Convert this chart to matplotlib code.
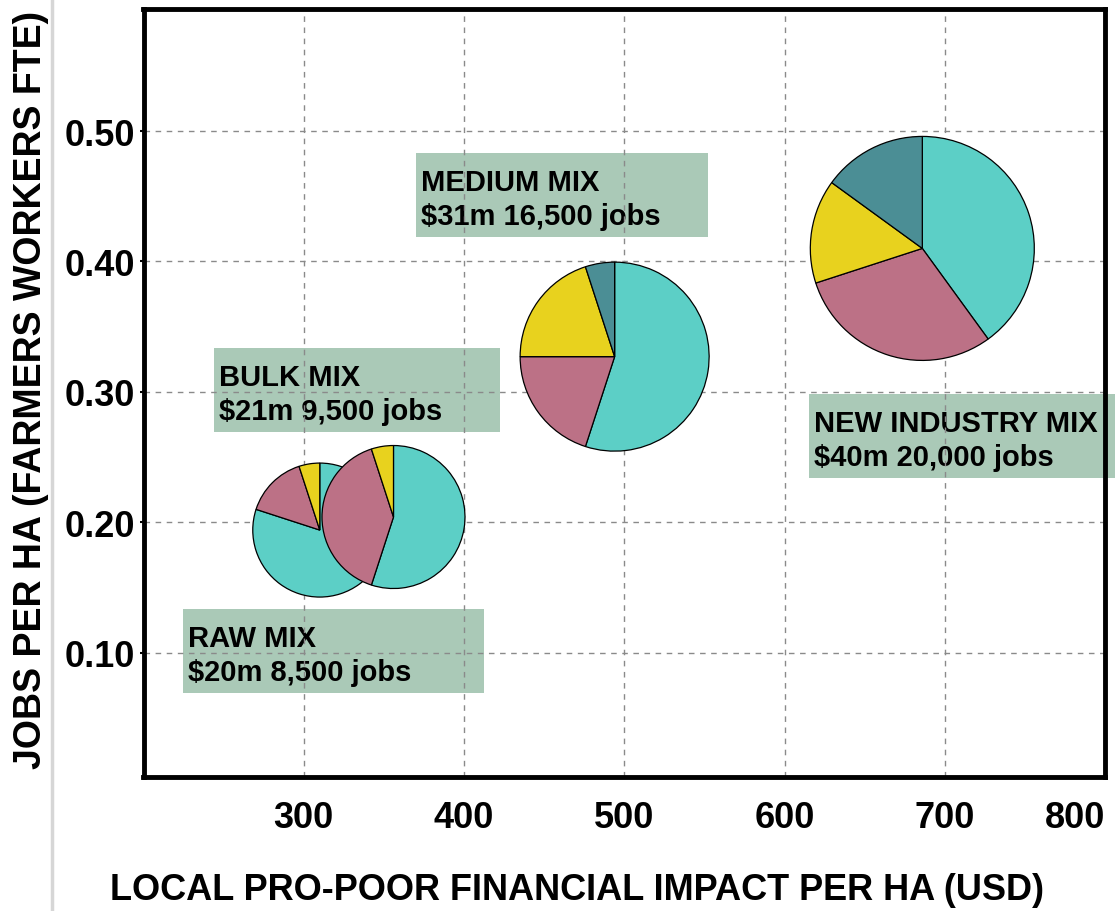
"""
Pro-poor impact vs jobs per hectare, one pie per product mix
"""
import matplotlib
matplotlib.use("Agg")
import matplotlib.pyplot as plt
from matplotlib.patches import Rectangle
from matplotlib.lines import Line2D

# values
mix_names = ["RAW MIX", "BULK MIX", "MEDIUM MIX", "NEW INDUSTRY MIX"]
mix_value = ["$20m", "$21m", "$31m", "$40m"]
mix_jobs = ["8,500", "9,500", "16,500", "20,000"]
impact_per_ha = [310, 356, 494, 686]
jobs_per_ha = [0.194, 0.204, 0.327, 0.410]

# pie shares (%), clockwise from 12 o'clock
seg1_share = [80, 55, 55, 40]
seg2_share = [15, 40, 20, 30]
seg3_share = [5, 5, 20, 15]
seg4_share = [0, 0, 5, 15]

x_ticks = [300, 400, 500, 600, 700, 800]
y_ticks = [0.10, 0.20, 0.30, 0.40, 0.50]

# styling / layout
seg_colors = ["#5ccfc6", "#bc7186", "#e8d21e", "#4b8e95"]
box_color = "#aac9b7"
pie_radius_px = [67, 71.5, 94.5, 112]
box_x0 = [224.6, 244.0, 370.0, 615.3]
box_top = [0.1338, 0.3338, 0.4833, 0.2986]
box_w = [187.9, 178.5, 182.3, 190.9]
box_h = 0.0645

plt.rcParams["font.family"] = ["Liberation Sans", "DejaVu Sans"]

W, H = 1115, 912
fig = plt.figure(figsize=(W / 100, H / 100), dpi=100)
ax_pos = [143.5 / W, 134.5 / H, 961.5 / W, 768 / H]
ax = fig.add_axes(ax_pos)

xlim = (200, 800)
ylim = (0.005, 0.594)
ax.set_xlim(*xlim)
ax.set_ylim(*ylim)

ax.grid(True, color="#8a8a8a", linestyle=(0, (4, 4)), linewidth=1.0)
for s in ax.spines.values():
    s.set_linewidth(3.5)
    s.set_color("black")

ax.set_xticks(x_ticks)
ax.set_xticklabels([str(v) for v in x_ticks], fontweight="bold")
ax.get_xticklabels()[-1].set_horizontalalignment("right")
ax.set_yticks(y_ticks)
ax.set_yticklabels([f"{v:.2f}" for v in y_ticks], fontweight="bold")
ax.tick_params(axis="x", length=0, pad=17, labelsize=26)
ax.tick_params(axis="y", length=3, width=1.5, pad=3, labelsize=26)

ax.set_xlabel("LOCAL PRO-POOR FINANCIAL IMPACT PER HA (USD)",
              fontsize=26, fontweight="bold")
ax.xaxis.set_label_coords(0.451, -0.125)
ax.set_ylabel("JOBS PER HA (FARMERS WORKERS FTE)",
              fontsize=27, fontweight="bold")
ax.yaxis.set_label_coords(-0.098, 0.505)

# label boxes (behind the grid)
for i in range(len(mix_names)):
    ax.add_patch(Rectangle((box_x0[i], box_top[i] - box_h), box_w[i], box_h,
                           facecolor=box_color, edgecolor="none",
                           zorder=1.0, clip_on=False))
    ax.text(box_x0[i] + 3.4, box_top[i] - 0.0545,
            f"{mix_names[i]}\n{mix_value[i]} {mix_jobs[i]} jobs",
            ha="left", va="baseline", fontsize=21, fontweight="bold",
            linespacing=1.25, zorder=1.2, clip_on=False)

# pies, each in a square inset axes centred on the data point
px_x = ax_pos[2] * W / (xlim[1] - xlim[0])
px_y = ax_pos[3] * H / (ylim[1] - ylim[0])
lim = 1.04
for i in range(len(mix_names)):
    shares = [seg1_share[i], seg2_share[i], seg3_share[i], seg4_share[i]]
    vals = [v for v in shares if v > 0]
    cols = [c for v, c in zip(shares, seg_colors) if v > 0]
    r = pie_radius_px[i] * lim
    w = 2 * r / px_x
    h = 2 * r / px_y
    ins = ax.inset_axes([impact_per_ha[i] - w / 2, jobs_per_ha[i] - h / 2, w, h],
                        transform=ax.transData)
    ins.pie(vals, colors=cols, startangle=90, counterclock=False,
            wedgeprops=dict(edgecolor="black", linewidth=0.9))
    ins.set_xlim(-lim, lim)
    ins.set_ylim(-lim, lim)
    ins.set_axis_off()

# faint panel edge on the left of the original image
fig.add_artist(Line2D([52 / W, 52 / W], [0, 1], color="#d6d6d6", linewidth=2.5))

fig.savefig("out.png", dpi=100)
